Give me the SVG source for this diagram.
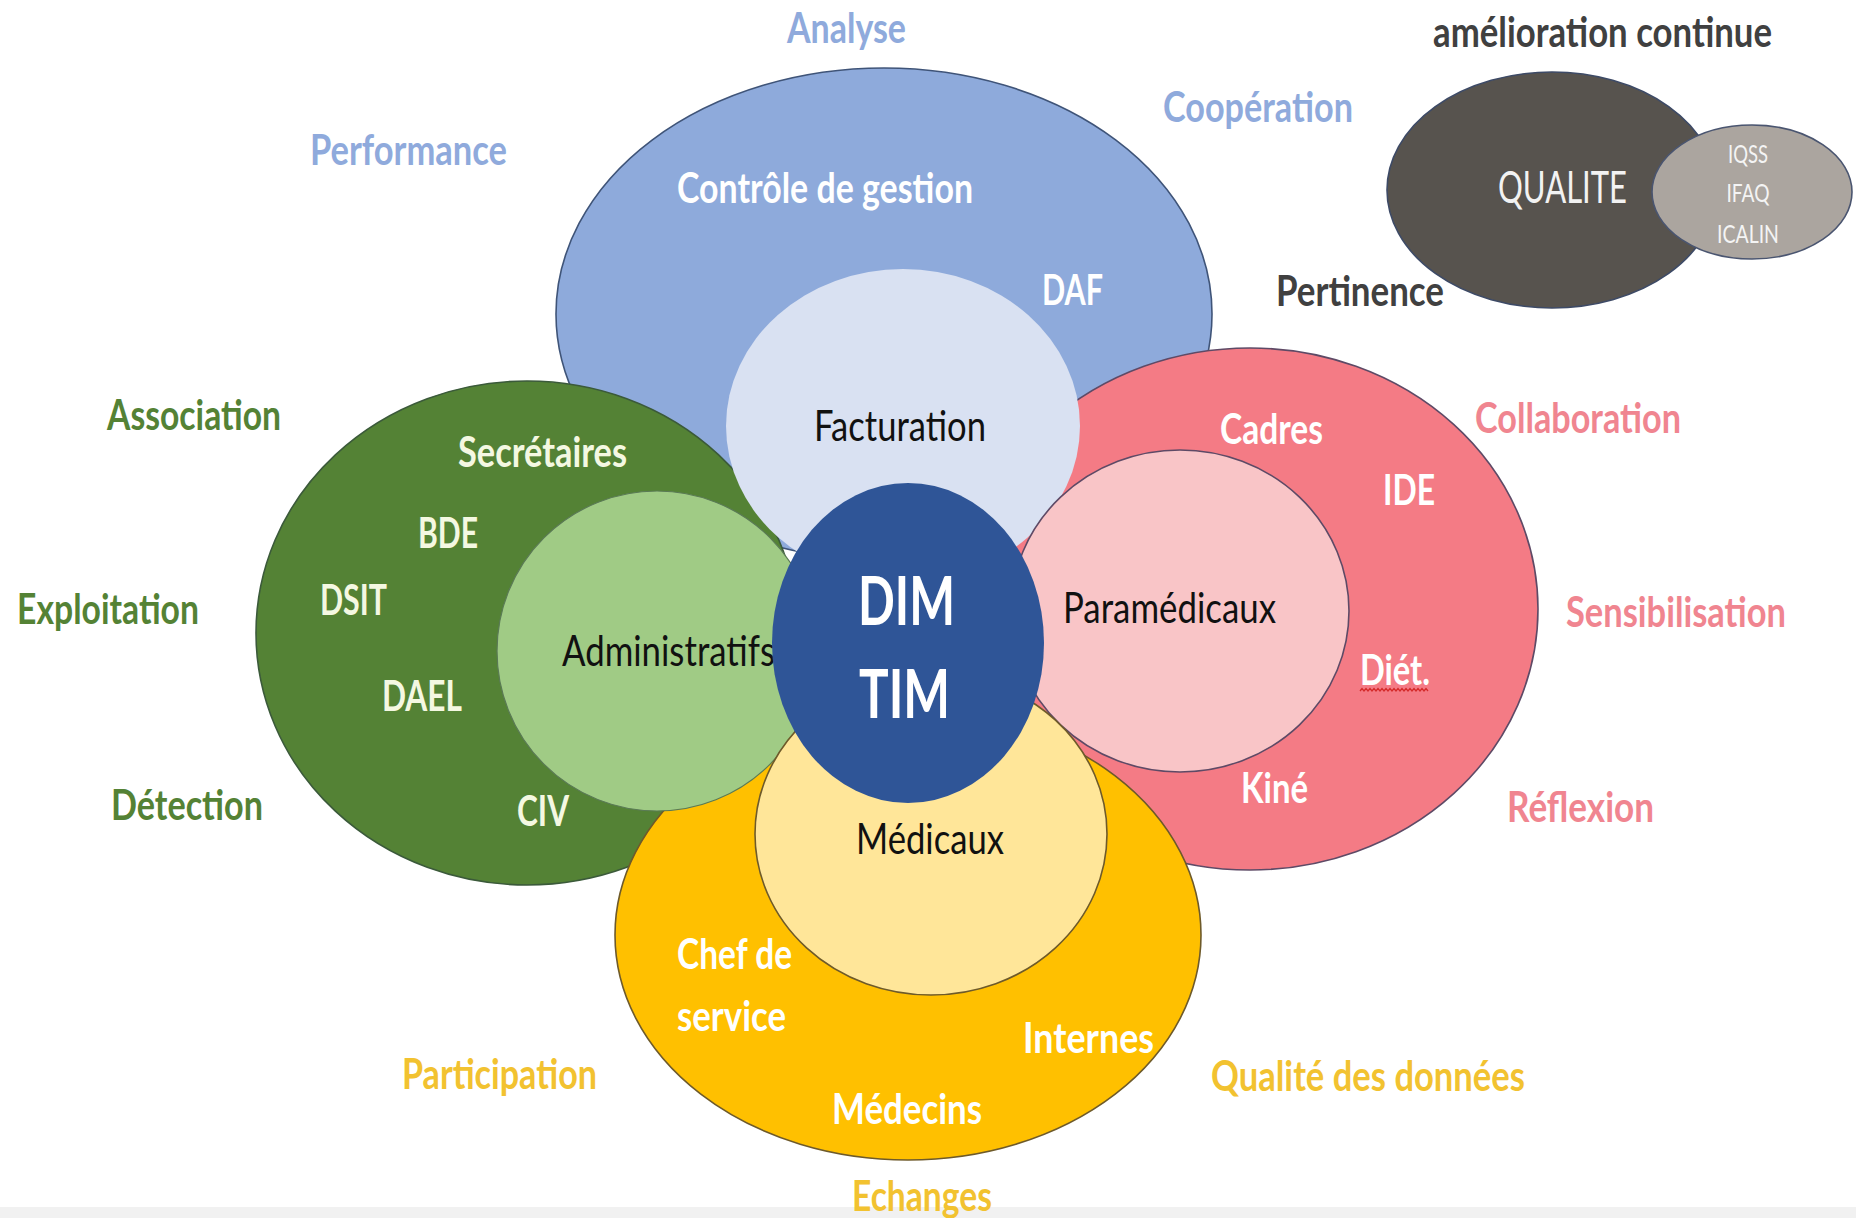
<svg xmlns="http://www.w3.org/2000/svg" width="1856" height="1218" viewBox="0 0 1856 1218">
<style>
  text { font-family: Lato, "Open Sans", "Liberation Sans", sans-serif; }
  .b { font-weight: 700; font-size: 42px; }
  .r { font-weight: 400; font-size: 42px; fill: #111111; }
  .wh { fill: #ffffff; }
  .cr { fill: #f4f8e2; }
  .ol { stroke-width: 1.6; }
  .t-blue { fill: #8faadc; }
  .t-green { fill: #548235; }
  .t-pink { fill: #f08590; }
  .t-yel { fill: #f2c230; }
  .t-dark { fill: #404040; }
</style>
<rect x="0" y="0" width="1856" height="1218" fill="#ffffff"/>
<rect x="0" y="1207" width="1856" height="11" fill="#f1f1f1"/>

<g id="connectors"></g>

<g id="node-blue-outer">
  <ellipse cx="884" cy="314" rx="328" ry="246" fill="#8eaadb" stroke="#3f5478" class="ol"/>
  <text class="b wh" x="677" y="203" textLength="296" lengthAdjust="spacingAndGlyphs">Contrôle de gestion</text>
  <text class="b wh" x="1042" y="305" textLength="61" lengthAdjust="spacingAndGlyphs">DAF</text>
</g>

<g id="node-green-outer">
  <ellipse cx="527" cy="633" rx="271" ry="252" fill="#548235" stroke="#3b5a3a" class="ol"/>
  <text class="b cr" x="458" y="467" textLength="169" lengthAdjust="spacingAndGlyphs">Secrétaires</text>
  <text class="b cr" x="418" y="548" textLength="60" lengthAdjust="spacingAndGlyphs">BDE</text>
  <text class="b cr" x="320" y="615" textLength="67" lengthAdjust="spacingAndGlyphs">DSIT</text>
  <text class="b cr" x="382" y="711" textLength="80" lengthAdjust="spacingAndGlyphs">DAEL</text>
  <text class="b cr" x="517" y="826" textLength="52" lengthAdjust="spacingAndGlyphs">CIV</text>
</g>

<g id="node-pink-outer">
  <ellipse cx="1250" cy="609" rx="288" ry="261" fill="#f47b85" stroke="#5e4a66" class="ol"/>
  <text class="b wh" x="1220" y="444" textLength="103" lengthAdjust="spacingAndGlyphs">Cadres</text>
  <text class="b wh" x="1383" y="505" textLength="52" lengthAdjust="spacingAndGlyphs">IDE</text>
  <text class="b wh" x="1360" y="685" textLength="70" lengthAdjust="spacingAndGlyphs">Diét.</text>
  <path d="M1360,691 l2,-2.5 l2,2.5 l2,-2.5 l2,2.5 l2,-2.5 l2,2.5 l2,-2.5 l2,2.5 l2,-2.5 l2,2.5 l2,-2.5 l2,2.5 l2,-2.5 l2,2.5 l2,-2.5 l2,2.5 l2,-2.5 l2,2.5 l2,-2.5 l2,2.5 l2,-2.5 l2,2.5 l2,-2.5 l2,2.5 l2,-2.5 l2,2.5 l2,-2.5 l2,2.5 l2,-2.5 l2,2.5 l2,-2.5 l2,2.5 l2,-2.5 l2,2.5" fill="none" stroke="#d42a2a" stroke-width="1.3"/>
  <text class="b wh" x="1241" y="803" textLength="67" lengthAdjust="spacingAndGlyphs">Kiné</text>
</g>

<g id="node-yellow-outer">
  <ellipse cx="908" cy="935" rx="293" ry="225" fill="#ffc000" stroke="#6e5a2a" class="ol"/>
  <text class="b wh" x="677" y="969" textLength="115" lengthAdjust="spacingAndGlyphs">Chef de</text>
  <text class="b wh" x="677" y="1031" textLength="109" lengthAdjust="spacingAndGlyphs">service</text>
  <text class="b wh" x="1023" y="1053" textLength="131" lengthAdjust="spacingAndGlyphs">Internes</text>
  <text class="b wh" x="832" y="1124" textLength="150" lengthAdjust="spacingAndGlyphs">Médecins</text>
</g>

<g id="node-facturation">
  <ellipse cx="903" cy="426" rx="177" ry="157" fill="#d9e1f2"/>
  <text class="r" x="814" y="441" textLength="172" lengthAdjust="spacingAndGlyphs">Facturation</text>
</g>

<g id="node-administratifs">
  <ellipse cx="657" cy="651" rx="160" ry="160" fill="#a0cb85" stroke="#5a7a55" stroke-width="1.2"/>
  <text class="r" x="562" y="666" textLength="213" lengthAdjust="spacingAndGlyphs">Administratifs</text>
</g>

<g id="node-paramedicaux">
  <ellipse cx="1180" cy="611" rx="169" ry="161" fill="#f9c5c7" stroke="#5e4a66" class="ol"/>
  <text class="r" x="1063" y="623" textLength="213" lengthAdjust="spacingAndGlyphs">Paramédicaux</text>
</g>

<g id="node-medicaux">
  <ellipse cx="931" cy="834" rx="176" ry="161" fill="#ffe699" stroke="#6e5a2a" class="ol"/>
  <text class="r" x="856" y="854" textLength="148" lengthAdjust="spacingAndGlyphs">Médicaux</text>
</g>

<g id="node-dim">
  <ellipse cx="908" cy="643" rx="136" ry="160" fill="#2f5597"/>
  <text class="wh" x="858" y="625" font-size="66" font-weight="700" textLength="97" lengthAdjust="spacingAndGlyphs">DIM</text>
  <text class="wh" x="859" y="718" font-size="66" font-weight="700" textLength="91" lengthAdjust="spacingAndGlyphs">TIM</text>
</g>

<g id="node-qualite">
  <ellipse cx="1552" cy="190" rx="165" ry="118" fill="#57534e" stroke="#3d4a66" class="ol"/>
  <text x="1498" y="203" font-size="44" font-weight="400" fill="#f2f2f2" textLength="129" lengthAdjust="spacingAndGlyphs">QUALITE</text>
</g>

<g id="node-indicateurs">
  <ellipse cx="1752" cy="192" rx="100" ry="67" fill="#aba59f" stroke="#4a5570" class="ol"/>
  <text x="1748" y="163" font-size="25" text-anchor="middle" fill="#f4f4f4" textLength="40" lengthAdjust="spacingAndGlyphs">IQSS</text>
  <text x="1748" y="202" font-size="25" text-anchor="middle" fill="#f4f4f4" textLength="43" lengthAdjust="spacingAndGlyphs">IFAQ</text>
  <text x="1748" y="243" font-size="25" text-anchor="middle" fill="#f4f4f4" textLength="62" lengthAdjust="spacingAndGlyphs">ICALIN</text>
</g>

<g id="labels">
  <text class="b t-dark" x="1433" y="47" font-size="38" textLength="339" lengthAdjust="spacingAndGlyphs">amélioration continue</text>
  <text class="b t-blue" x="787" y="43" textLength="119" lengthAdjust="spacingAndGlyphs">Analyse</text>
  <text class="b t-blue" x="310" y="165" textLength="197" lengthAdjust="spacingAndGlyphs">Performance</text>
  <text class="b t-blue" x="1163" y="122" textLength="190" lengthAdjust="spacingAndGlyphs">Coopération</text>
  <text class="b t-dark" x="1276" y="306" textLength="168" lengthAdjust="spacingAndGlyphs">Pertinence</text>
  <text class="b t-green" x="107" y="430" textLength="174" lengthAdjust="spacingAndGlyphs">Association</text>
  <text class="b t-green" x="17" y="624" textLength="182" lengthAdjust="spacingAndGlyphs">Exploitation</text>
  <text class="b t-green" x="111" y="820" textLength="152" lengthAdjust="spacingAndGlyphs">Détection</text>
  <text class="b t-pink" x="1475" y="433" textLength="206" lengthAdjust="spacingAndGlyphs">Collaboration</text>
  <text class="b t-pink" x="1566" y="627" textLength="220" lengthAdjust="spacingAndGlyphs">Sensibilisation</text>
  <text class="b t-pink" x="1507" y="822" textLength="147" lengthAdjust="spacingAndGlyphs">Réflexion</text>
  <text class="b t-yel" x="402" y="1089" textLength="195" lengthAdjust="spacingAndGlyphs">Participation</text>
  <text class="b t-yel" x="1211" y="1091" textLength="314" lengthAdjust="spacingAndGlyphs">Qualité des données</text>
  <text class="b t-yel" x="852" y="1211" textLength="140" lengthAdjust="spacingAndGlyphs">Echanges</text>
</g>
</svg>
